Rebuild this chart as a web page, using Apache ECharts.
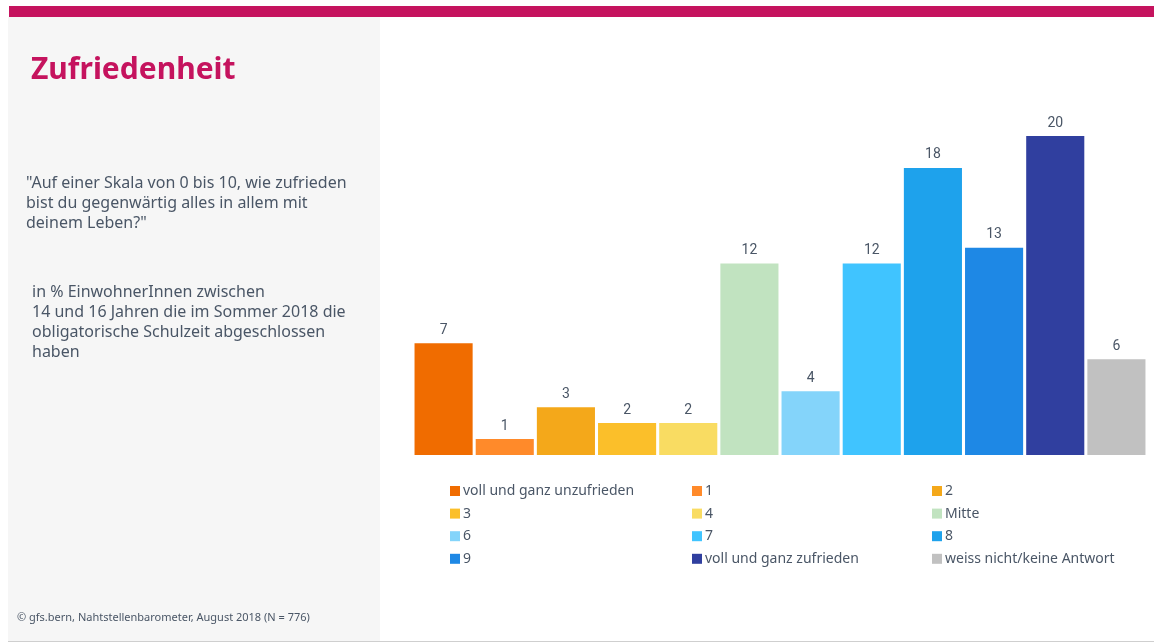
<!DOCTYPE html>
<html>
<head>
<meta charset="utf-8">
<script src="https://cdn.jsdelivr.net/npm/echarts@6/dist/echarts.min.js"></script>
<style>
  html, body { margin: 0; padding: 0; background: #ffffff; }
  #chart { width: 1154px; height: 644px; }
</style>
</head>
<body>
<div id="chart"></div>
<script>
// Antwortkategorien (Skala 0 bis 10 plus "weiss nicht")
const categories = [
  'voll und ganz unzufrieden', '1', '2', '3', '4', 'Mitte',
  '6', '7', '8', '9', 'voll und ganz zufrieden', 'weiss nicht/keine Antwort'
];
// Anteile in %
const values = [7, 1, 3, 2, 2, 12, 4, 12, 18, 13, 20, 6];
const colors = [
  '#f06c00', '#ff8a2a', '#f4a81a', '#fbbf2a', '#f9dc62', '#c1e3c0',
  '#84d4fa', '#40c4ff', '#1ea2ec', '#1e88e5', '#303f9f', '#c1c1c1'
];
const questionLines = [
  '"Auf einer Skala von 0 bis 10, wie zufrieden',
  'bist du gegenwärtig alles in allem mit',
  'deinem Leben?"'
];
const baseLines = [
  'in % EinwohnerInnen zwischen',
  '14 und 16 Jahren die im Sommer 2018 die',
  'obligatorische Schulzeit abgeschlossen',
  'haben'
];
const sourceText = '© gfs.bern, Nahtstellenbarometer, August 2018 (N = 776)';

const textColor = '#4a5666';
const font = 'Noto Sans';

// one series per answer so each gets its own legend entry and colour
const series = categories.map((name, i) => ({
  name: name,
  type: 'bar',
  stack: 'all',
  barWidth: '95%',
  itemStyle: { color: colors[i] },
  label: {
    show: true,
    position: 'top',
    distance: 6,
    color: textColor,
    fontFamily: 'Roboto',
    fontSize: 14
  },
  data: categories.map((c, j) => (j === i ? values[i] : '-'))
}));

// legend in three columns, filled row by row
const legendCols = [[], [], []];
categories.forEach((c, i) => legendCols[i % 3].push(c));
const legendLeft = [450, 692, 932];
const legends = legendCols.map((data, k) => ({
  data: data,
  orient: 'vertical',
  left: legendLeft[k],
  top: 484,
  padding: 0,
  itemWidth: 10,
  itemHeight: 10,
  itemGap: 8.6,
  icon: 'rect',
  selectedMode: false,
  textStyle: { color: textColor, fontFamily: font, fontSize: 14, padding: [0, 0, 0, -2] }
}));

const graphics = [
  { type: 'rect', shape: { x: 9, y: 6, width: 1145, height: 11 }, style: { fill: '#c5135e' }, z: -1 },
  { type: 'rect', shape: { x: 8, y: 17, width: 372, height: 624 }, style: { fill: '#f6f6f6' }, z: -2 },
  { type: 'rect', shape: { x: 8, y: 641, width: 1146, height: 1 }, style: { fill: '#cfcfcf' }, z: -1 },
  {
    type: 'text', left: 31, top: 55,
    style: { text: 'Zufriedenheit', fill: '#c5135e', font: 'bold 30px "Noto Sans"' }
  },
  {
    type: 'text', left: 26, top: 173,
    style: { text: questionLines.join('\n'), fill: textColor, font: '16px "Noto Sans"', lineHeight: 20 }
  },
  {
    type: 'text', left: 32, top: 282,
    style: { text: baseLines.join('\n'), fill: textColor, font: '16px "Noto Sans"', lineHeight: 20 }
  },
  {
    type: 'text', left: 17, top: 612,
    style: { text: sourceText, fill: textColor, font: '11px "Noto Sans"' }
  }
];

const chart = echarts.init(document.getElementById('chart'), null, { renderer: 'canvas' });
chart.setOption({
  animation: false,
  backgroundColor: '#ffffff',
  graphic: graphics,
  legend: legends,
  grid: { left: 413, right: 7, top: 136, bottom: 189, containLabel: false },
  xAxis: {
    type: 'category',
    data: categories,
    axisLine: { show: false },
    axisTick: { show: false },
    axisLabel: { show: false }
  },
  yAxis: {
    type: 'value',
    min: 0,
    max: 20,
    show: false,
    splitLine: { show: false }
  },
  series: series
});
</script>
</body>
</html>
